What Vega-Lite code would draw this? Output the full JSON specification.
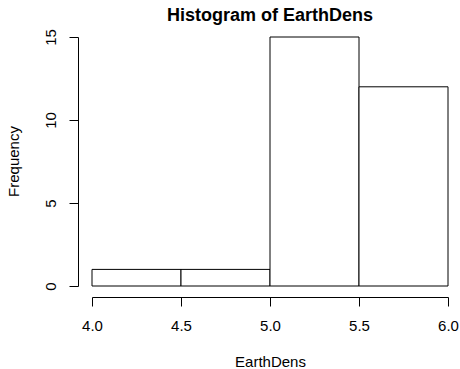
{
  "$schema": "https://vega.github.io/schema/vega-lite/v6.json",
  "autosize": {"type": "none"},
  "padding": {"left": 92, "top": 37, "right": 12, "bottom": 83},
  "width": 356,
  "height": 249,
  "background": "white",
  "title": {
    "text": "Histogram of EarthDens",
    "font": "Liberation Sans",
    "fontSize": 18,
    "fontWeight": "bold",
    "color": "black",
    "anchor": "middle",
    "frame": "group",
    "baseline": "alphabetic",
    "offset": -10
  },
  "data": {
    "values": [
      {"bin_start": 4.0, "bin_end": 4.5, "count": 1},
      {"bin_start": 4.5, "bin_end": 5.0, "count": 1},
      {"bin_start": 5.0, "bin_end": 5.5, "count": 15},
      {"bin_start": 5.5, "bin_end": 6.0, "count": 12}
    ]
  },
  "mark": {"type": "rect", "fill": "white", "stroke": "black", "strokeWidth": 1},
  "encoding": {
    "x": {
      "field": "bin_start",
      "type": "quantitative",
      "scale": {"domain": [4, 6], "nice": false, "zero": false},
      "axis": {
        "values": [4, 4.5, 5, 5.5, 6],
        "format": ".1f",
        "offset": 11,
        "grid": false,
        "domainColor": "black",
        "tickColor": "black",
        "tickSize": 9,
        "labelFont": "Liberation Sans",
        "labelFontSize": 15,
        "labelColor": "black",
        "labelBaseline": "alphabetic",
        "labelPadding": 24,
        "labelFlush": false,
        "labelOverlap": false,
        "title": "EarthDens",
        "titleFont": "Liberation Sans",
        "titleFontSize": 15,
        "titleFontWeight": "normal",
        "titleColor": "black",
        "titleBaseline": "alphabetic",
        "titleAlign": "center",
        "titleX": 178,
        "titleY": 69.5
      }
    },
    "x2": {"field": "bin_end"},
    "y": {
      "field": "count",
      "type": "quantitative",
      "scale": {"domain": [0, 15], "nice": false},
      "axis": {
        "values": [0, 5, 10, 15],
        "offset": 14,
        "grid": false,
        "domainColor": "black",
        "tickColor": "black",
        "tickSize": 9,
        "labelFont": "Liberation Sans",
        "labelFontSize": 15,
        "labelColor": "black",
        "labelAngle": 270,
        "labelAlign": "center",
        "labelBaseline": "alphabetic",
        "labelPadding": 14,
        "labelFlush": false,
        "labelOverlap": false,
        "title": "Frequency",
        "titleFont": "Liberation Sans",
        "titleFontSize": 15,
        "titleFontWeight": "normal",
        "titleColor": "black",
        "titleAngle": 270,
        "titleBaseline": "alphabetic",
        "titleAlign": "center",
        "titleX": -59.5,
        "titleY": 124
      }
    },
    "y2": {"datum": 0}
  },
  "config": {"view": {"stroke": null}}
}
